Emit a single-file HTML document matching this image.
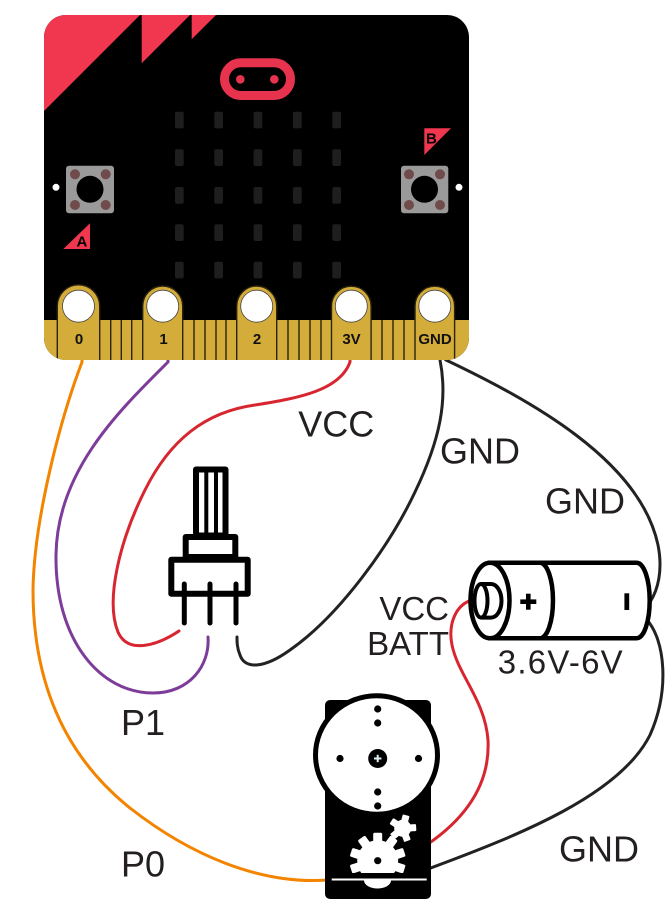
<!DOCTYPE html>
<html>
<head>
<meta charset="utf-8">
<style>
  html,body{margin:0;padding:0;background:#fff;}
  svg{display:block;}
  .lbl{font-family:"Liberation Sans",Arial,sans-serif;fill:#231f20;}
  .pin{font-family:"Liberation Sans",Arial,sans-serif;font-weight:bold;font-size:15px;fill:#111;}
</style>
</head>
<body>
<svg width="672" height="916" viewBox="0 0 672 916" xmlns="http://www.w3.org/2000/svg">
  <defs>
    <clipPath id="board"><rect x="44" y="15" width="425" height="345" rx="22"/></clipPath>
    <clipPath id="gc"><rect x="340" y="820" width="80" height="53"/></clipPath>
  </defs>

  <!-- ===== wires ===== -->
  <g fill="none" stroke-width="3" stroke-linecap="round">
    <!-- orange P0 -->
    <path d="M82,358 L82,362 C60,420 34,520 33,590 C33,690 70,760 130,808 C190,855 260,885 328,880" stroke="#f38400"/>
    <!-- purple P1 -->
    <path d="M168,358 L168,362 C120,410 57,470 56,555 C55,640 100,693 153,693 C190,693 210,665 208,637" stroke="#7d3c98"/>
    <!-- red VCC to pot -->
    <path d="M350,358 L350,362 C340,390 300,398 255,405 C205,412 170,440 145,490 C120,540 105,600 118,632 C128,655 158,645 179,631" stroke="#d7262f"/>
    <!-- black GND to pot -->
    <path d="M440,358 L440,360 C448,400 440,440 415,492 C390,545 340,615 290,650 C265,668 245,670 240,655 C237,648 237,642 237,637" stroke="#222"/>
    <!-- black GND to battery -->
    <path d="M444,358 L446,360 C530,400 640,460 658,545 C663,570 658,590 650,602" stroke="#222"/>
    <!-- black battery to servo -->
    <path d="M647,620 C665,640 670,690 650,735 C620,795 520,835 428,869" stroke="#222"/>
    <!-- red VCC BATT -->
    <path d="M472,600 C455,605 448,625 452,645 C458,675 485,700 488,740 C490,780 470,815 428,844" stroke="#d7262f"/>
  </g>

  <!-- ===== micro:bit board ===== -->
  <rect x="44" y="15" width="425" height="345" rx="22" fill="#000"/>
  <g clip-path="url(#board)">
    <polygon points="30,10 145,10 30,125" fill="#f0374f"/>
    <polygon points="141.7,10 195,10 141.7,63.3" fill="#f0374f"/>
    <polygon points="191.7,10 221,10 191.7,39.3" fill="#f0374f"/>
    <rect x="40" y="320" width="440" height="45" fill="#d3ac39"/>
    <g stroke="#2a2310" stroke-width="1.4">
      <line x1="110.7" y1="320" x2="110.7" y2="362"/>
      <line x1="121.3" y1="320" x2="121.3" y2="362"/>
      <line x1="131.7" y1="320" x2="131.7" y2="362"/>
      <line x1="194" y1="320" x2="194" y2="362"/>
      <line x1="205" y1="320" x2="205" y2="362"/>
      <line x1="216" y1="320" x2="216" y2="362"/>
      <line x1="226" y1="320" x2="226" y2="362"/>
      <line x1="288" y1="320" x2="288" y2="362"/>
      <line x1="299" y1="320" x2="299" y2="362"/>
      <line x1="310" y1="320" x2="310" y2="362"/>
      <line x1="321" y1="320" x2="321" y2="362"/>
      <line x1="382" y1="320" x2="382" y2="362"/>
      <line x1="393" y1="320" x2="393" y2="362"/>
      <line x1="404" y1="320" x2="404" y2="362"/>
    </g>
    <!-- pads -->
    <g fill="#d3ac39" stroke="#2a2310" stroke-width="1.4">
      <path d="M57.3,364 L57.3,306 A21.2,21.2 0 0 1 99.7,306 L99.7,364 Z"/>
      <path d="M142.7,364 L142.7,306 A20,20 0 0 1 182.7,306 L182.7,364 Z"/>
      <path d="M236.7,364 L236.7,306 A20,20 0 0 1 276.7,306 L276.7,364 Z"/>
      <path d="M331.5,364 L331.5,306 A19.8,19.8 0 0 1 371.1,306 L371.1,364 Z"/>
      <path d="M415,364 L415,306 A19.8,19.8 0 0 1 454.6,306 L454.6,364 Z"/>
    </g>
    <g fill="#fff" stroke="#444" stroke-width="0.8">
      <circle cx="78.5" cy="306.2" r="16"/>
      <circle cx="162.7" cy="306.2" r="16"/>
      <circle cx="256.7" cy="306.2" r="16"/>
      <circle cx="351.3" cy="306.2" r="16"/>
      <circle cx="434.8" cy="306.2" r="16"/>
    </g>
  </g>
  <g text-anchor="middle">
    <text class="pin" x="79" y="344">0</text>
    <text class="pin" x="163.5" y="344">1</text>
    <text class="pin" x="257" y="344">2</text>
    <text class="pin" x="351.5" y="344">3V</text>
    <text class="pin" x="435" y="344" font-size="14.5">GND</text>
  </g>

  <!-- logo -->
  <rect x="224.5" y="62.8" width="66" height="32.7" rx="16.35" fill="none" stroke="#e8334e" stroke-width="9"/>
  <circle cx="240.3" cy="79.3" r="4.3" fill="#e8334e"/>
  <circle cx="274.3" cy="79.3" r="4.3" fill="#e8334e"/>

  <!-- LED matrix -->
  <g fill="#1e1e1e">
    <rect x="175" y="111.7" width="8.7" height="16.7" rx="2"/>
    <rect x="214.3" y="111.7" width="8.7" height="16.7" rx="2"/>
    <rect x="253.6" y="111.7" width="8.7" height="16.7" rx="2"/>
    <rect x="293" y="111.7" width="8.7" height="16.7" rx="2"/>
    <rect x="332.3" y="111.7" width="8.7" height="16.7" rx="2"/>
    <rect x="175" y="149.3" width="8.7" height="16.7" rx="2"/>
    <rect x="214.3" y="149.3" width="8.7" height="16.7" rx="2"/>
    <rect x="253.6" y="149.3" width="8.7" height="16.7" rx="2"/>
    <rect x="293" y="149.3" width="8.7" height="16.7" rx="2"/>
    <rect x="332.3" y="149.3" width="8.7" height="16.7" rx="2"/>
    <rect x="175" y="187" width="8.7" height="16.7" rx="2"/>
    <rect x="214.3" y="187" width="8.7" height="16.7" rx="2"/>
    <rect x="253.6" y="187" width="8.7" height="16.7" rx="2"/>
    <rect x="293" y="187" width="8.7" height="16.7" rx="2"/>
    <rect x="332.3" y="187" width="8.7" height="16.7" rx="2"/>
    <rect x="175" y="224.3" width="8.7" height="16.7" rx="2"/>
    <rect x="214.3" y="224.3" width="8.7" height="16.7" rx="2"/>
    <rect x="253.6" y="224.3" width="8.7" height="16.7" rx="2"/>
    <rect x="293" y="224.3" width="8.7" height="16.7" rx="2"/>
    <rect x="332.3" y="224.3" width="8.7" height="16.7" rx="2"/>
    <rect x="175" y="261.7" width="8.7" height="16.7" rx="2"/>
    <rect x="214.3" y="261.7" width="8.7" height="16.7" rx="2"/>
    <rect x="253.6" y="261.7" width="8.7" height="16.7" rx="2"/>
    <rect x="293" y="261.7" width="8.7" height="16.7" rx="2"/>
    <rect x="332.3" y="261.7" width="8.7" height="16.7" rx="2"/>
  </g>

  <!-- buttons -->
  <rect x="66" y="165.7" width="48" height="47.6" rx="3" fill="#9a9a9a"/>
  <circle cx="90" cy="189.3" r="13.5" fill="#000"/>
  <g fill="#704b4b">
    <circle cx="75" cy="174.3" r="5"/><circle cx="105.7" cy="174.3" r="5"/>
    <circle cx="75" cy="205" r="5"/><circle cx="105.7" cy="205" r="5"/>
  </g>
  <rect x="401" y="165.7" width="47.3" height="47.6" rx="3" fill="#9a9a9a"/>
  <circle cx="424.5" cy="189.3" r="13.5" fill="#000"/>
  <g fill="#704b4b">
    <circle cx="409" cy="174.3" r="5"/><circle cx="440" cy="174.3" r="5"/>
    <circle cx="409" cy="205" r="5"/><circle cx="440" cy="205" r="5"/>
  </g>
  <circle cx="56" cy="187.3" r="3.5" fill="#fff"/>
  <circle cx="459" cy="187.3" r="3.5" fill="#fff"/>

  <!-- A / B markers -->
  <polygon points="63.3,249 90,249 90,223.3" fill="#f0374f"/>
  <text x="76.5" y="246.5" font-family="Liberation Sans, Arial, sans-serif" font-weight="bold" font-size="15" fill="#000">A</text>
  <polygon points="424.3,128.3 451,128.3 424.3,155" fill="#f0374f"/>
  <text x="426" y="143.5" font-family="Liberation Sans, Arial, sans-serif" font-weight="bold" font-size="15" fill="#000">B</text>

  <!-- ===== potentiometer ===== -->
  <g fill="#fff" stroke="#000" stroke-width="6" stroke-linejoin="round">
    <rect x="196" y="469.5" width="29.5" height="66"/>
    <rect x="185.7" y="537" width="49.6" height="20"/>
    <rect x="171.3" y="559.7" width="76.4" height="34"/>
  </g>
  <g stroke="#000" stroke-width="4" fill="none">
    <line x1="206.3" y1="470" x2="206.3" y2="535"/>
    <line x1="216" y1="470" x2="216" y2="535"/>
  </g>
  <g stroke="#000" stroke-width="5" stroke-linecap="round">
    <line x1="184.3" y1="584" x2="184.3" y2="623"/>
    <line x1="210" y1="584" x2="210" y2="623"/>
    <line x1="236" y1="584" x2="236" y2="623"/>
  </g>

  <!-- ===== battery ===== -->
  <g stroke="#000" stroke-width="4.5" fill="#fff">
    <path d="M490,562.7 L636.7,562.7 A13,37.8 0 0 1 636.7,638.3 L490,638.3 Z"/>
    <path d="M540,562.7 A13,37.8 0 0 1 540,638.3" fill="none"/>
    <ellipse cx="490" cy="600.5" rx="19.5" ry="37.8"/>
    <path d="M481,584 L491,584 A10.5,16.8 0 0 1 491,617.6 L481,617.6" fill="none" stroke-width="4"/>
    <ellipse cx="481" cy="600.8" rx="6.5" ry="16.8" stroke-width="4"/>
  </g>
  <rect x="520.3" y="599.4" width="16" height="4.6" fill="#000"/>
  <rect x="526" y="593.7" width="4.6" height="16" fill="#000"/>
  <rect x="624.4" y="593.3" width="4.8" height="16.7" fill="#000"/>

  <!-- ===== servo ===== -->
  <rect x="325" y="700" width="106" height="199" rx="5" fill="#000"/>
  <ellipse cx="376.5" cy="755" rx="61" ry="59.3" fill="#fff" stroke="#000" stroke-width="5"/>
  <g fill="#000">
    <circle cx="377.7" cy="709" r="3.6"/>
    <circle cx="377.7" cy="723" r="3.6"/>
    <circle cx="340" cy="758.5" r="3.6"/>
    <circle cx="418.5" cy="758.5" r="3.6"/>
    <circle cx="377.7" cy="792" r="3.6"/>
    <circle cx="377.7" cy="806" r="3.6"/>
    <circle cx="377.7" cy="758.5" r="9.5"/>
  </g>
  <rect x="374" y="757.5" width="7.4" height="2" fill="#dff0f5"/>
  <rect x="376.7" y="754.8" width="2" height="7.4" fill="#dff0f5"/>
  <!-- big gear -->
  <g clip-path="url(#gc)" fill="#fff">
    <g transform="translate(377.7,860.7)">
      <circle r="20.5"/>
      <rect x="-4.5" y="-28" width="9" height="10" rx="1.5"/>
      <rect x="-4.5" y="-28" width="9" height="10" rx="1.5" transform="rotate(36)"/>
      <rect x="-4.5" y="-28" width="9" height="10" rx="1.5" transform="rotate(72)"/>
      <rect x="-4.5" y="-28" width="9" height="10" rx="1.5" transform="rotate(108)"/>
      <rect x="-4.5" y="-28" width="9" height="10" rx="1.5" transform="rotate(144)"/>
      <rect x="-4.5" y="-28" width="9" height="10" rx="1.5" transform="rotate(216)"/>
      <rect x="-4.5" y="-28" width="9" height="10" rx="1.5" transform="rotate(252)"/>
      <rect x="-4.5" y="-28" width="9" height="10" rx="1.5" transform="rotate(288)"/>
      <rect x="-4.5" y="-28" width="9" height="10" rx="1.5" transform="rotate(324)"/>
    </g>
  </g>
  <circle cx="377.7" cy="860.7" r="3.6" fill="#000"/>
  <!-- small gear -->
  <g fill="#fff" transform="translate(402.7,828.3)">
    <circle r="8.5"/>
    <rect x="-3.5" y="-13.5" width="7" height="7" rx="1" transform="rotate(15)"/>
    <rect x="-3.5" y="-13.5" width="7" height="7" rx="1" transform="rotate(87)"/>
    <rect x="-3.5" y="-13.5" width="7" height="7" rx="1" transform="rotate(159)"/>
    <rect x="-3.5" y="-13.5" width="7" height="7" rx="1" transform="rotate(231)"/>
    <rect x="-3.5" y="-13.5" width="7" height="7" rx="1" transform="rotate(303)"/>
  </g>
  <rect x="331.7" y="878.5" width="95" height="2" fill="#fff"/>
  <path d="M364,880.5 A13.5,8 0 0 0 391,880.5 Z" fill="#fff"/>

  <!-- ===== labels ===== -->
  <text class="lbl" x="298.3" y="436.7" font-size="36">VCC</text>
  <text class="lbl" x="440" y="463.3" font-size="36">GND</text>
  <text class="lbl" x="545" y="513.3" font-size="36">GND</text>
  <text class="lbl" x="449" y="620" font-size="33" text-anchor="end">VCC</text>
  <text class="lbl" x="449" y="655" font-size="33" text-anchor="end">BATT</text>
  <text class="lbl" x="497.7" y="673.3" font-size="33" textLength="125" lengthAdjust="spacing">3.6V-6V</text>
  <text class="lbl" x="121" y="735" font-size="36">P1</text>
  <text class="lbl" x="121" y="876.7" font-size="36">P0</text>
  <text class="lbl" x="559" y="861.7" font-size="36">GND</text>
</svg>
</body>
</html>
